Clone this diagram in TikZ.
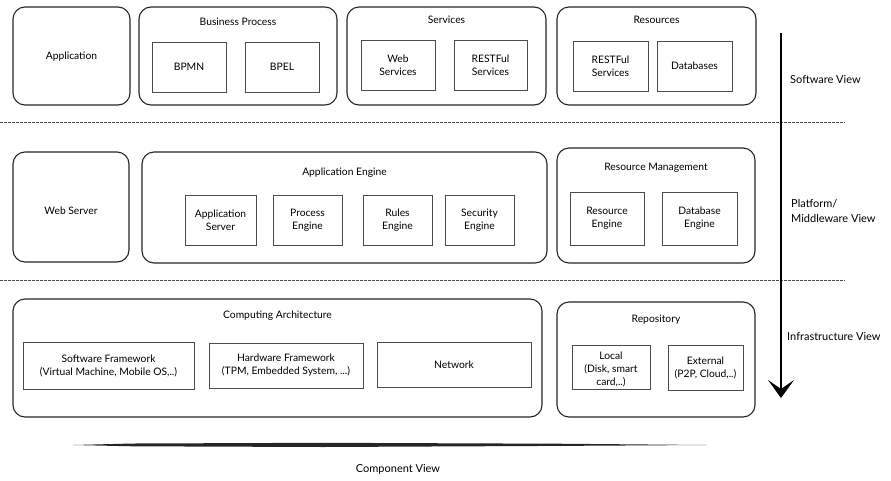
\documentclass[tikz,border=0pt]{standalone}
\usepackage{fontspec}
\setmainfont{Lato}
\usetikzlibrary{arrows.meta}
\begin{document}
\begin{tikzpicture}[x=1pt,y=-1pt,
  every node/.style={font=\fontsize{10.3}{13}\selectfont, text=black},
  rbox/.style={draw=black!85, line width=1.1pt, rounded corners=12pt, inner sep=0pt},
  ibox/.style={draw=black!70, line width=0.9pt, inner sep=0pt, align=center},
  title/.style={inner sep=0pt},
  sep/.style={draw=black!70, line width=0.7pt, dash pattern=on 2.5pt off 1.5pt},
  viewlbl/.style={inner sep=0pt, align=left, font=\fontsize{11}{15}\selectfont},
  viewarrow/.style={draw=black, line width=2pt, -{Stealth[length=18pt,width=26pt,inset=9pt]}}
]
\useasboundingbox (0,0) rectangle (891,480);

% separators
\coordinate (s1l) at (0,122); \coordinate (s1r) at (845,122);
\coordinate (s2l) at (0,280); \coordinate (s2r) at (845,280);
\draw[sep] (s1l) -- (s1r);
\draw[sep] (s2l) -- (s2r);

% Row 1
\node[rbox, minimum width=117pt, minimum height=98pt] (app) at (71.5,56) {};
\node[title] (appt) at (71.5,57) {Application};
\node[rbox, minimum width=198pt, minimum height=98pt] (bp) at (238,56) {};
\node[title] (bpt) at (238,22) {Business Process};
\node[ibox, minimum width=74pt, minimum height=50pt] (bpmn) at (189,67) {BPMN};
\node[ibox, minimum width=74pt, minimum height=50pt] (bpel) at (282,67) {BPEL};
\node[rbox, minimum width=199pt, minimum height=98pt] (svc) at (446.5,56) {};
\node[title] (svct) at (446.5,20) {Services};
\node[ibox, minimum width=74pt, minimum height=50pt] (ws) at (398,65) {Web\\Services};
\node[ibox, minimum width=73pt, minimum height=50pt] (rs1) at (490.5,65) {RESTFul\\Services};
\node[rbox, minimum width=199pt, minimum height=98pt] (res) at (656.5,56) {};
\node[title] (rest) at (656.5,20) {Resources};
\node[ibox, minimum width=75pt, minimum height=50pt] (rs2) at (610.5,66) {RESTFul\\Services};
\node[ibox, minimum width=75pt, minimum height=50pt] (db) at (694.5,66) {Databases};

% Row 2
\node[rbox, minimum width=116pt, minimum height=110pt] (web) at (71,207) {};
\node[title] (webt) at (71,211) {Web Server};
\node[rbox, minimum width=405pt, minimum height=111pt] (ae) at (344.5,207.5) {};
\node[title] (aet) at (344.5,173) {Application Engine};
\node[ibox, minimum width=71pt, minimum height=50pt] (as) at (220.5,220) {Application\\Server};
\node[ibox, minimum width=69pt, minimum height=50pt] (pe) at (307.5,220) {Process\\Engine};
\node[ibox, minimum width=69pt, minimum height=50pt] (ree) at (397.5,220) {Rules\\Engine};
\node[ibox, minimum width=69pt, minimum height=50pt] (se) at (479.5,220) {Security\\Engine};
\node[rbox, minimum width=198pt, minimum height=115pt] (rm) at (656,205.5) {};
\node[title] (rmt) at (656,168) {Resource Management};
\node[ibox, minimum width=74pt, minimum height=53pt] (reng) at (607,218.5) {Resource\\Engine};
\node[ibox, minimum width=75pt, minimum height=53pt] (deng) at (699.5,218.5) {Database\\Engine};

% Row 3
\node[rbox, minimum width=529pt, minimum height=118pt] (ca) at (277.5,358) {};
\node[title] (cat) at (277.5,316) {Computing Architecture};
\node[ibox, minimum width=171pt, minimum height=47pt] (sf) at (108.5,365.5) {Software Framework\\(Virtual Machine, Mobile OS,..)};
\node[ibox, minimum width=154pt, minimum height=45pt] (hf) at (286,365.5) {Hardware Framework\\(TPM, Embedded System, ...)};
\node[ibox, minimum width=154pt, minimum height=45pt] (net) at (454,364.5) {Network};
\node[rbox, minimum width=198pt, minimum height=115pt] (repo) at (656,359.5) {};
\node[title] (repot) at (656,320) {Repository};
\node[ibox, minimum width=78pt, minimum height=44pt] (loc) at (611,367) {};
\node[align=center, inner sep=0pt] (loct) at (611,369) {Local\\(Disk, smart\\card,..)};
\node[ibox, minimum width=75pt, minimum height=45pt] (ext) at (705.5,367.5) {External\\(P2P, Cloud,..)};

% vertical view arrow
\coordinate (vtop) at (781,33);
\coordinate (vbot) at (781,398);
\draw[viewarrow] (vtop) -- (vbot);

% horizontal brush line
\coordinate (hl) at (73,445);
\coordinate (hr) at (707,445);
\fill[black!85] (hl) -- ([shift={(60,-1.5)}]hl) -- ([shift={(250,-2.2)}]hl) -- ([shift={(-150,-1.3)}]hr) -- (hr)
   -- ([shift={(-150,0.9)}]hr) -- ([shift={(250,2.0)}]hl) -- ([shift={(60,1.3)}]hl) -- cycle;

% view labels
\node[viewlbl, anchor=west] (swv) at (790,80) {Software View};
\node[viewlbl, anchor=west] (pmv) at (791,211) {Platform/\\Middleware View};
\node[viewlbl, anchor=west] (inv) at (787,337) {Infrastructure View};
\node[viewlbl, anchor=center] (cov) at (398,469) {Component View};
\end{tikzpicture}
\end{document}
